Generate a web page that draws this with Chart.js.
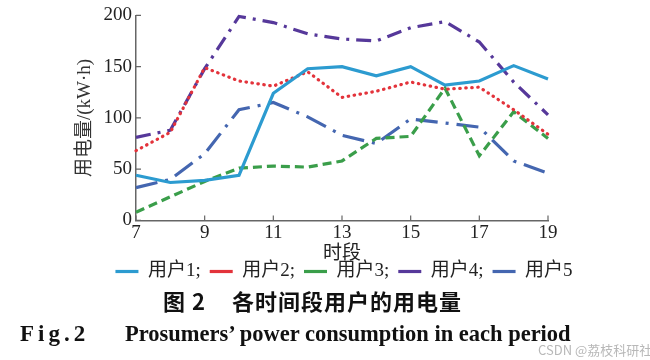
<!DOCTYPE html>
<html>
<head>
<meta charset="utf-8">
<script src="https://cdn.jsdelivr.net/npm/chart.js"></script>
<style>
  html, body { margin: 0; padding: 0; background: #fff; }
  #wrap { position: relative; width: 650px; height: 360px; overflow: hidden; }
  .cap { position: absolute; white-space: nowrap; color: #111; }
  #capCn { left: 163px; top: 284px; font: bold 22px "Noto Sans CJK SC", sans-serif; letter-spacing: 1px; }
  #capCn .gap { display: inline-block; width: 26px; }
  #capFig { left: 20px; top: 321px; font: bold 23px "Liberation Serif", serif; letter-spacing: 4px; }
  #capEn { left: 125px; top: 321px; font: bold 22.5px "Liberation Serif", serif; }
  #mark { position: absolute; left: 538px; top: 340px; font: 13px "Noto Sans CJK SC", sans-serif; color: #b8b8b8; white-space: nowrap; }
</style>
</head>
<body>
<div id="wrap">
  <canvas id="chart" width="650" height="360"></canvas>
  <div class="cap" id="capCn">图 2<span class="gap"></span>各时间段用户的用电量</div>
  <div class="cap" id="capFig">Fig.2</div>
  <div class="cap" id="capEn">Prosumers’ power consumption in each period</div>
  <div id="mark">CSDN @荔枝科研社</div>
</div>
<script>
// 时段 (h)
const hours = [7, 8, 9, 10, 11, 12, 13, 14, 15, 16, 17, 18, 19];
// 用电量 / (kW·h)
const user1 = [44, 37, 39, 44, 124, 148, 150, 141, 150, 132, 136, 151, 138];
const user2 = [68, 86, 149, 136, 131, 145, 120, 126, 135, 128, 130, 108, 84];
const user3 = [8, 23, 38, 51, 53, 52, 58, 80, 82, 129, 63, 106, 80];
const user4 = [81, 88, 148, 199, 193, 182, 177, 175, 188, 194, 174, 135, 103];
const user5 = [32, 40, 65, 108, 115, 101, 83, 75, 99, 95, 91, 58, 46];
const seriesNames = ['用户1', '用户2', '用户3', '用户4', '用户5'];
const xTicks = [7, 9, 11, 13, 15, 17, 19];
const yTicks = [0, 50, 100, 150, 200];

const serifCn = "'Liberation Serif', 'Noto Sans CJK SC', serif";
Chart.defaults.font.family = serifCn;
Chart.defaults.color = '#222';

function pts(vals) {
    return vals.map((v, i) => ({x: hours[i], y: v}));
}
function line(label, vals, color, dash, cap) {
    return {
        label: label, data: pts(vals), borderColor: color, backgroundColor: color,
        borderWidth: 3.2, borderDash: dash, borderCapStyle: cap || 'butt',
        pointRadius: 0, tension: 0, fill: false, clip: false
    };
}

// small inward tick marks like the original figure
const innerTicks = {
    id: 'innerTicks',
    afterDraw(chart) {
        const ctx = chart.ctx, xs = chart.scales.x, ys = chart.scales.y;
        const a = chart.chartArea;
        ctx.save();
        ctx.strokeStyle = '#666';
        ctx.lineWidth = 1.2;
        ctx.beginPath();
        xTicks.forEach(t => {
            const px = xs.getPixelForValue(t);
            ctx.moveTo(px, a.bottom); ctx.lineTo(px, a.bottom - 5);
        });
        yTicks.forEach(t => {
            const py = ys.getPixelForValue(t);
            ctx.moveTo(a.left, py); ctx.lineTo(a.left + 5, py);
        });
        ctx.stroke();
        ctx.restore();
    }
};

new Chart(document.getElementById('chart'), {
    type: 'line',
    data: {
        datasets: [
            line(seriesNames[0], user1, '#2c9bd0', [], 'butt'),
            line(seriesNames[1], user2, '#e3333b', [0.5, 5.5], 'round'),
            line(seriesNames[2], user3, '#3a9e4a', [9, 5]),
            line(seriesNames[3], user4, '#56389a', [15, 7, 3, 7]),
            line(seriesNames[4], user5, '#4466b0', [22, 8, 3, 8])
        ]
    },
    options: {
        responsive: false,
        animation: false,
        layout: {padding: {left: 58, right: 20, top: 11, bottom: 69}},
        scales: {
            x: {
                type: 'linear', min: 7, max: 19,
                grid: {display: false, drawTicks: false},
                border: {display: true, color: '#666', width: 1.5},
                ticks: {stepSize: 2, padding: 1, color: '#222', font: {size: 19}},
                title: {display: true, text: '时段', color: '#222', font: {size: 19}, padding: {top: -3, bottom: -12}}
            },
            y: {
                min: 0, max: 200,
                grid: {display: false, drawTicks: false},
                border: {display: true, color: '#666', width: 1.5},
                ticks: {stepSize: 50, padding: 4, color: '#222', font: {size: 19}},
                title: {display: true, text: '用电量/(kW·h)', color: '#333', font: {size: 19}, padding: {top: 16, bottom: 0}},
                afterFit(s) { s.width = 78; }
            },
            yR: {
                position: 'right', display: true,
                grid: {display: false, drawTicks: false},
                border: {display: false},
                ticks: {display: false},
                afterFit(s) { s.width = 82; }
            }
        },
        plugins: {
            legend: {
                position: 'bottom',
                labels: {
                    usePointStyle: true, pointStyle: 'line', pointStyleWidth: 23,
                    boxWidth: 18, boxHeight: 10, padding: 9, color: '#222',
                    font: {size: 19},
                    generateLabels(chart) {
                        const items = Chart.defaults.plugins.legend.labels.generateLabels(chart);
                        items.forEach((it, i) => { if (i < items.length - 1) it.text += ';'; });
                        return items;
                    }
                }
            },
            tooltip: {enabled: false}
        }
    },
    plugins: [innerTicks]
});
</script>
</body>
</html>
